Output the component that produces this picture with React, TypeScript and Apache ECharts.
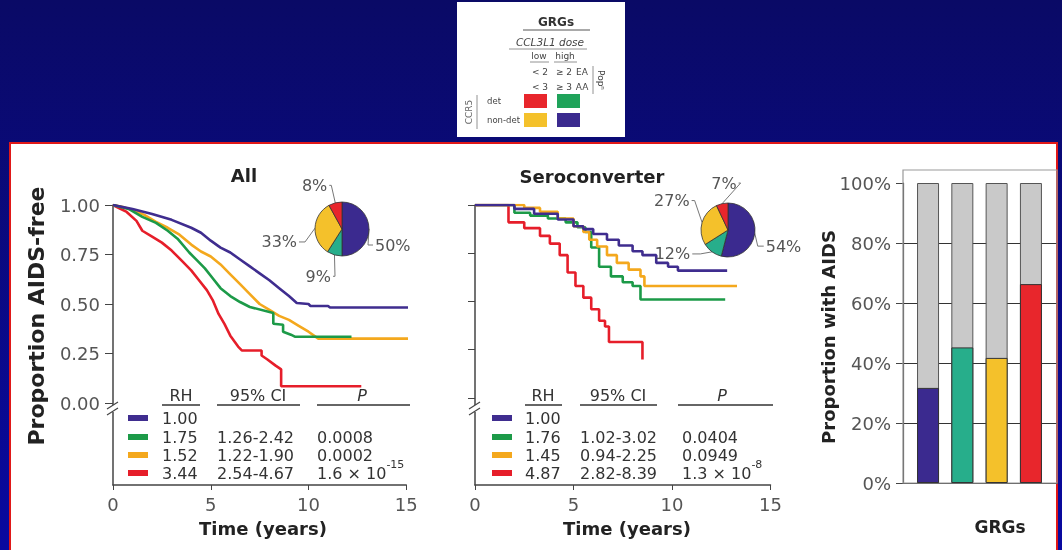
import React, { useEffect, useRef } from "react";
import * as echarts from "echarts";

const FONT = '"DejaVu Sans", Verdana, sans-serif';

// Kaplan-Meier curves: [years, proportion AIDS-free]
const allPurple = [[0,1],[1,0.98],[2,0.955],[3,0.925],[4,0.885],[4.5,0.86],[5,0.82],[5.5,0.785],[6,0.76],[6.5,0.725],[7,0.69],[7.5,0.655],[8,0.62],[8.5,0.58],[9,0.54],[9.4,0.505],[10,0.5],[10.1,0.49],[11,0.49],[11.1,0.482],[15.1,0.482]];
const allGreen = [[0,1],[0.8,0.98],[1.5,0.94],[2.2,0.91],[2.8,0.87],[3.3,0.83],[3.9,0.76],[4.3,0.72],[4.7,0.68],[5.1,0.63],[5.5,0.58],[6,0.54],[6.5,0.51],[7,0.485],[8.2,0.455],[8.2,0.4],[8.7,0.395],[8.7,0.36],[9.1,0.345],[9.3,0.335],[12.2,0.335]];
const allOrange = [[0,1],[0.5,0.99],[1,0.975],[1.6,0.95],[2.2,0.915],[2.8,0.885],[3.4,0.85],[4,0.8],[4.5,0.765],[5,0.74],[5.5,0.7],[6,0.65],[6.5,0.6],[7,0.55],[7.5,0.5],[8,0.47],[8.5,0.44],[9,0.42],[9.5,0.39],[10,0.36],[10.5,0.325],[15.1,0.325]];
const allRed = [[0,1],[0.3,0.985],[0.7,0.965],[1.2,0.92],[1.5,0.87],[2,0.84],[2.5,0.81],[3,0.77],[3.5,0.72],[4,0.67],[4.4,0.62],[4.8,0.57],[5.1,0.52],[5.4,0.45],[5.7,0.4],[6,0.34],[6.4,0.285],[6.6,0.265],[7.6,0.265],[7.6,0.24],[7.9,0.22],[8.3,0.19],[8.6,0.17],[8.6,0.085],[12.7,0.085]];

const seroPurple = [[0,1],[1.3,1],[2,0.98],[3,0.955],[4.2,0.925],[5,0.89],[5.5,0.875],[6,0.85],[6.7,0.82],[7.3,0.79],[8,0.76],[8.5,0.74],[9.2,0.7],[9.8,0.68],[10.3,0.66],[12.8,0.66]];
const seroGreen = [[0,1],[1.2,1],[2,0.96],[2.8,0.945],[3.7,0.93],[4.6,0.91],[5.2,0.885],[5.6,0.86],[5.9,0.78],[6.3,0.68],[6.9,0.63],[7.5,0.6],[8,0.58],[8.4,0.51],[12.7,0.51]];
const seroOrange = [[0,1],[1.6,1],[2.5,0.985],[3.3,0.965],[4.2,0.93],[5,0.89],[5.5,0.86],[5.8,0.82],[6.2,0.785],[6.7,0.74],[7.2,0.7],[7.8,0.665],[8.4,0.63],[8.6,0.58],[13.3,0.58]];
const seroRed = [[0,1],[1.3,1],[1.7,0.91],[2.5,0.88],[3.3,0.84],[3.8,0.8],[4.3,0.74],[4.7,0.65],[5.1,0.58],[5.5,0.52],[5.9,0.46],[6.3,0.4],[6.6,0.37],[6.8,0.29],[8.4,0.29],[8.5,0.2]];

const survTicks = [0, 0.25, 0.5, 0.75, 1];

// Pie composition (purple, teal, yellow, red)
const pieAllValues = [50, 9, 33, 8];
const pieSeroValues = [54, 12, 27, 7];

// Bars: proportion with AIDS by GRG
const barValues = [31.7, 45.2, 41.7, 66.3];

// Tables
const tableAllRH = ["1.00", "1.75", "1.52", "3.44"];
const tableAllCI = ["", "1.26-2.42", "1.22-1.90", "2.54-4.67"];
const tableAllP = ["", "0.0008", "0.0002", "1.6 × 10"];
const tableAllPExp = ["", "", "", "-15"];
const tableSeroRH = ["1.00", "1.76", "1.45", "4.87"];
const tableSeroCI = ["", "1.02-3.02", "0.94-2.25", "2.82-8.39"];
const tableSeroP = ["", "0.0404", "0.0949", "1.3 × 10"];
const tableSeroPExp = ["", "", "", "-8"];

const kmColors = ["#3f2d8f", "#1c9a48", "#f4a81d", "#e61e2a"];
const groupColors = ["#3b2a8f", "#27ae8b", "#f4c12b", "#e8262c"];

function txt(x: number, y: number, text: string, o: any = {}) {
  return {
    type: "text",
    x,
    y,
    z: 50,
    rotation: o.rot || 0,
    style: {
      text,
      font: o.font || `16px ${FONT}`,
      fill: o.fill || "#333",
      align: o.align || "left",
      verticalAlign: o.va || "middle",
      textAlign: o.align || "left",
      textVerticalAlign: o.va || "middle",
      rich: o.rich,
    },
  };
}
function ln(x1: number, y1: number, x2: number, y2: number, color = "#333", w = 1.5) {
  return { type: "line", z: 50, shape: { x1, y1, x2, y2 }, style: { stroke: color, lineWidth: w } };
}
function rc(x: number, y: number, w: number, h: number, fill: string, z = 50, stroke?: string) {
  return { type: "rect", z, shape: { x, y, width: w, height: h }, style: { fill, stroke: stroke || null, lineWidth: 1 } };
}

function table(swX: number, rhX: number, ciX: number, pX: number, heads: number[], lines: number[][], rh: string[], ci: string[], p: string[], pe: string[]) {
  const els: any[] = [];
  const rowsY = [418, 437, 455, 473];
  els.push(txt(heads[0], 395, "RH", { align: "center" }));
  els.push(txt(heads[1], 395, "95% CI", { align: "center" }));
  els.push(txt(heads[2], 395, "P", { align: "center", font: `italic 16px ${FONT}` }));
  lines.forEach((l) => els.push(ln(l[0], 405, l[1], 405, "#333", 1.5)));
  rowsY.forEach((y, i) => {
    els.push(rc(swX, y - 3, 20, 6, kmColors[i]));
    els.push(txt(rhX, y, rh[i]));
    if (ci[i]) els.push(txt(ciX, y, ci[i]));
    if (p[i]) {
      if (pe[i]) {
        els.push(txt(pX, y - 3, `{a|${p[i]}}{b|${pe[i]}}`, {
          rich: {
            a: { fontSize: 16, fontFamily: FONT, fill: "#333", color: "#333", lineHeight: 22, verticalAlign: "bottom" },
            b: { fontSize: 11, fontFamily: FONT, fill: "#333", color: "#333", lineHeight: 11, verticalAlign: "top" },
          },
        }));
      } else els.push(txt(pX, y, p[i]));
    }
  });
  return els;
}

function axisBreak(x: number) {
  return [
    rc(x - 4, 405, 8, 7, "#fff", 60),
    { type: "line", z: 61, shape: { x1: x - 6, y1: 409, x2: x + 5, y2: 402 }, style: { stroke: "#444", lineWidth: 1.2 } },
    { type: "line", z: 61, shape: { x1: x - 6, y1: 415, x2: x + 5, y2: 408 }, style: { stroke: "#444", lineWidth: 1.2 } },
  ];
}

function kmLine(data: number[][], color: string, idx: number, step: any) {
  return {
    type: "line",
    xAxisIndex: idx,
    yAxisIndex: idx,
    data,
    step,
    showSymbol: false,
    symbol: "none",
    silent: true,
    lineStyle: { color, width: 2.6 },
    z: 5,
  };
}

function pie(center: number[], values: number[], lens: number[][], shifts: number[][]) {
  return {
    type: "pie",
    center,
    radius: 27,
    startAngle: 90,
    clockwise: true,
    silent: true,
    avoidLabelOverlap: false,
    data: values.map((v, i) => ({
      value: v,
      itemStyle: { color: groupColors[i] },
      labelLine: { length: lens[i][0], length2: lens[i][1] },
    })),
    itemStyle: { borderColor: "#333", borderWidth: 0.8 },
    label: { show: true, position: "outside", formatter: "{c}%", fontSize: 16, color: "#555", fontFamily: FONT, distanceToLabelLine: 2 },
    labelLine: { show: true, length: 8, length2: 5, lineStyle: { color: "#777", width: 1 } },
    labelLayout: (p: any) => {
      const [dx, dy] = shifts[p.dataIndex];
      const res: any = { dx, dy };
      const pts = p.labelLinePoints;
      if (pts && pts.length === 3) {
        res.labelLinePoints = [
          [pts[0][0], pts[0][1]],
          [pts[1][0] + dx, pts[1][1] + dy],
          [pts[2][0] + dx, pts[2][1] + dy],
        ];
      }
      return res;
    },
    emphasis: { disabled: true },
    z: 6,
  };
}

const kmX = (grid: number) => ({
  type: "value",
  gridIndex: grid,
  min: 0,
  max: 15,
  interval: 5,
  axisLine: { show: true, onZero: false, lineStyle: { color: "#444", width: 1.5 } },
  axisTick: { show: true, length: 5, lineStyle: { color: "#444" } },
  axisLabel: { fontSize: 18, color: "#555", margin: 10, fontFamily: FONT },
  splitLine: { show: false },
});

const KEY = "#444";
const graphics: any[] = [
  {
    type: "rect",
    z: -20,
    shape: { x: 0, y: 0, width: 1062, height: 550 },
    style: {
      fill: { type: "linear", x: 0, y: 0, x2: 0, y2: 1, colorStops: [{ offset: 0, color: "#0a0a66" }, { offset: 1, color: "#0909a0" }] },
    },
  },
  { type: "rect", z: -10, shape: { x: 10, y: 143, width: 1047, height: 420 }, style: { fill: "#fff", stroke: "#e01818", lineWidth: 2 } },
  // GRG key at top
  { type: "rect", z: -10, shape: { x: 457, y: 2, width: 168, height: 135 }, style: { fill: "#fff" } },
  txt(556, 22, "GRGs", { align: "center", font: `bold 12px ${FONT}`, fill: "#333" }),
  ln(523, 30, 590, 30, "#555", 1),
  txt(550, 42, "CCL3L1 dose", { align: "center", font: `italic 10.5px ${FONT}`, fill: KEY }),
  ln(509, 49, 587, 49, "#777", 0.8),
  txt(539, 56, "low", { align: "center", font: `9px ${FONT}`, fill: KEY }),
  ln(530, 62, 549, 62, "#777", 0.8),
  txt(565, 56, "high", { align: "center", font: `9px ${FONT}`, fill: KEY }),
  ln(554, 62, 577, 62, "#777", 0.8),
  txt(540, 72, "< 2", { align: "center", font: `9px ${FONT}`, fill: KEY }),
  txt(564, 72, "≥ 2", { align: "center", font: `9px ${FONT}`, fill: KEY }),
  txt(582, 72, "EA", { align: "center", font: `9px ${FONT}`, fill: KEY }),
  txt(540, 87, "< 3", { align: "center", font: `9px ${FONT}`, fill: KEY }),
  txt(564, 87, "≥ 3", { align: "center", font: `9px ${FONT}`, fill: KEY }),
  txt(582, 87, "AA", { align: "center", font: `9px ${FONT}`, fill: KEY }),
  ln(593, 66, 593, 94, "#777", 0.8),
  txt(601, 80, "Popⁿ", { align: "center", font: `9px ${FONT}`, fill: KEY, rot: -Math.PI / 2 }),
  txt(469, 112, "CCR5", { align: "center", font: `9px ${FONT}`, fill: "#666", rot: Math.PI / 2 }),
  ln(477, 95, 477, 129, "#777", 0.8),
  txt(487, 101, "det", { font: `8.5px ${FONT}`, fill: KEY }),
  txt(487, 120, "non-det", { font: `8.5px ${FONT}`, fill: KEY }),
  rc(524, 94, 23, 14, groupColors[3]),
  rc(557, 94, 23, 14, "#1fa35a"),
  rc(524, 113, 23, 14, groupColors[2]),
  rc(557, 113, 23, 14, groupColors[0]),
  // titles and axis names
  txt(244, 175, "All", { align: "center", font: `bold 18px ${FONT}`, fill: "#222" }),
  txt(592, 176, "Seroconverter", { align: "center", font: `bold 18px ${FONT}`, fill: "#222" }),
  txt(36, 316, "Proportion AIDS-free", { align: "center", font: `bold 22px ${FONT}`, fill: "#222", rot: Math.PI / 2 }),
  txt(263, 528, "Time (years)", { align: "center", font: `bold 18px ${FONT}`, fill: "#222" }),
  txt(627, 528, "Time (years)", { align: "center", font: `bold 18px ${FONT}`, fill: "#222" }),
  txt(828, 337, "Proportion with AIDS", { align: "center", font: `bold 18px ${FONT}`, fill: "#222", rot: Math.PI / 2 }),
  txt(1000, 527, "GRGs", { align: "center", font: `bold 17px ${FONT}`, fill: "#222" }),
  { type: "rect", z: 1, shape: { x: 903, y: 170, width: 154, height: 313 }, style: { fill: null, stroke: "#999", lineWidth: 1.2 } },
  ...axisBreak(113),
  ...axisBreak(475),
  ...table(128, 162, 217, 317, [181, 258, 362], [[162, 200], [217, 300], [317, 410]], tableAllRH, tableAllCI, tableAllP, tableAllPExp),
  ...table(492, 525, 580, 682, [543, 618, 722], [[525, 562], [580, 657], [678, 773]], tableSeroRH, tableSeroCI, tableSeroP, tableSeroPExp),
];

const option: any = {
  animation: false,
  textStyle: { fontFamily: FONT },
  grid: [
    { left: 113, top: 205, width: 293.25, height: 280, outerBoundsMode: "none" },
    { left: 475, top: 205, width: 295.5, height: 280, outerBoundsMode: "none" },
    { left: 903, top: 183, width: 154, height: 300, outerBoundsMode: "none" },
  ],
  xAxis: [
    kmX(0),
    kmX(1),
    {
      type: "value",
      gridIndex: 2,
      min: 0.27,
      max: 4.76,
      axisLine: { show: true, onZero: false, lineStyle: { color: "#444", width: 1.2 } },
      axisTick: { show: false },
      axisLabel: { show: false },
      splitLine: { show: false },
    },
  ],
  yAxis: [
    {
      type: "value",
      gridIndex: 0,
      min: -0.414,
      max: 1,
      axisLine: { show: true, onZero: false, lineStyle: { color: "#444", width: 1.5 } },
      axisTick: { show: true, length: 8, customValues: survTicks, lineStyle: { color: "#444" } },
      axisLabel: { customValues: survTicks, formatter: (v: number) => (v < 0 ? "" : v.toFixed(2)), fontSize: 18, color: "#555", margin: 13, fontFamily: FONT },
      splitLine: { show: false },
    },
    {
      type: "value",
      gridIndex: 1,
      min: -0.451,
      max: 1,
      axisLine: { show: true, onZero: false, lineStyle: { color: "#444", width: 1.5 } },
      axisTick: { show: true, length: 7, customValues: survTicks, lineStyle: { color: "#444" } },
      axisLabel: { show: false },
      splitLine: { show: false },
    },
    {
      type: "value",
      gridIndex: 2,
      min: 0,
      max: 100,
      interval: 20,
      axisLine: { show: true, onZero: false, lineStyle: { color: "#444", width: 1.2 } },
      axisTick: { show: true, length: 7, lineStyle: { color: "#444" } },
      axisLabel: { formatter: "{value}%", fontSize: 18, color: "#555", margin: 12, fontFamily: FONT },
      splitLine: { show: true, showMinLine: false, showMaxLine: false, lineStyle: { color: "#333", width: 1 } },
    },
  ],
  series: [
    kmLine(allRed, kmColors[3], 0, false),
    kmLine(allOrange, kmColors[2], 0, false),
    kmLine(allGreen, kmColors[1], 0, false),
    kmLine(allPurple, kmColors[0], 0, false),
    kmLine(seroRed, kmColors[3], 1, "end"),
    kmLine(seroGreen, kmColors[1], 1, "end"),
    kmLine(seroOrange, kmColors[2], 1, "end"),
    kmLine(seroPurple, kmColors[0], 1, "end"),
    pie([342, 229], pieAllValues, [[5, 5], [16, 2], [6, 6], [16, 2]], [[-6, 16], [5, 6], [-4, 14], [0, -2]]),
    pie([728, 230], pieSeroValues, [[6, 6], [10, 8], [14, 3], [16, 2]], [[-3, 12], [-6, -6], [6, -18], [22, -5]]),
    {
      type: "bar",
      xAxisIndex: 2,
      yAxisIndex: 2,
      barWidth: 22,
      silent: true,
      data: barValues.map((_, i) => [i + 1, 100]),
      itemStyle: { color: "#c9c9c9", borderColor: "#555", borderWidth: 1 },
      z: 3,
    },
    {
      type: "bar",
      xAxisIndex: 2,
      yAxisIndex: 2,
      barWidth: 22,
      barGap: "-100%",
      silent: true,
      data: barValues.map((v, i) => ({ value: [i + 1, v], itemStyle: { color: groupColors[i] } })),
      itemStyle: { borderColor: "#333", borderWidth: 1 },
      z: 4,
    },
  ],
  graphic: graphics,
};

export default function App() {
  const ref = useRef<HTMLDivElement>(null);
  useEffect(() => {
    const chart = echarts.init(ref.current!, null, { renderer: "svg" });
    chart.setOption(option);
    return () => chart.dispose();
  }, []);
  return <div ref={ref} style={{ position: "fixed", left: 0, top: 0, width: 1062, height: 550 }} />;
}
